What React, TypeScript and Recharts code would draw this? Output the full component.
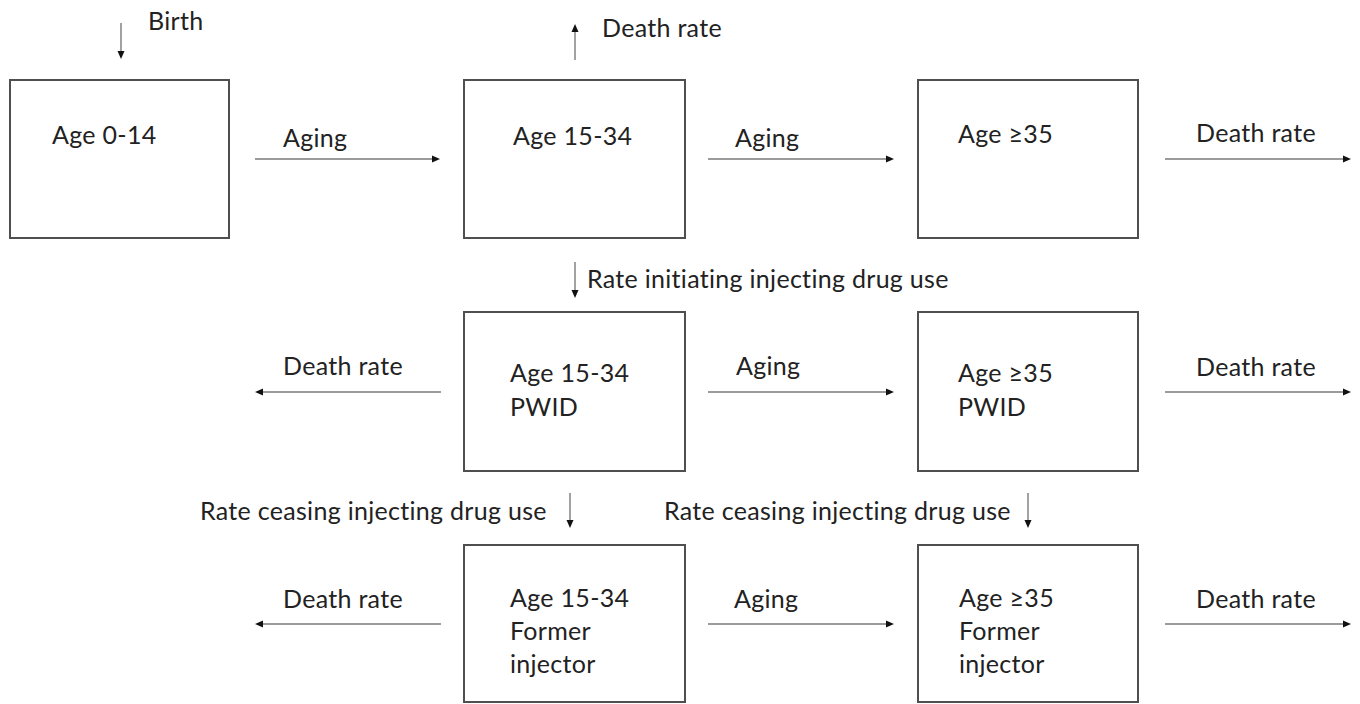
import React from 'react';
import { ScatterChart, Scatter, XAxis, YAxis, ReferenceArea, ReferenceLine } from 'recharts';

const W = 1360;
const H = 704;

// Compartment boxes (diagram units)
const boxes = [
  { id: 'age0_14', x1: 10, x2: 229, y1: 80, y2: 238 },
  { id: 'age15_34', x1: 464, x2: 685, y1: 80, y2: 238 },
  { id: 'age35', x1: 918, x2: 1138, y1: 80, y2: 238 },
  { id: 'pwid15_34', x1: 464, x2: 685, y1: 312, y2: 471 },
  { id: 'pwid35', x1: 918, x2: 1138, y1: 312, y2: 471 },
  { id: 'former15_34', x1: 464, x2: 685, y1: 545, y2: 702 },
  { id: 'former35', x1: 918, x2: 1138, y1: 545, y2: 702 },
];

// Text inside the boxes
const boxLabels = [
  { x: 52, y: 144, text: 'Age 0-14' },
  { x: 513, y: 145, text: 'Age 15-34' },
  { x: 958, y: 143, text: 'Age ≥35' },
  { x: 510, y: 382, text: 'Age 15-34' },
  { x: 510, y: 416, text: 'PWID' },
  { x: 958, y: 382, text: 'Age ≥35' },
  { x: 958, y: 416, text: 'PWID' },
  { x: 510, y: 607, text: 'Age 15-34' },
  { x: 510, y: 640, text: 'Former' },
  { x: 510, y: 673, text: 'injector' },
  { x: 959, y: 607, text: 'Age ≥35' },
  { x: 959, y: 640, text: 'Former' },
  { x: 959, y: 673, text: 'injector' },
];

// Flow arrows (from -> to)
const arrows = [
  { id: 'birth', x1: 121, y1: 23, x2: 121, y2: 59 },
  { id: 'death0', x1: 575, y1: 60, x2: 575, y2: 24 },
  { id: 'aging1a', x1: 255, y1: 159, x2: 440, y2: 159 },
  { id: 'aging1b', x1: 708, y1: 159, x2: 894, y2: 159 },
  { id: 'death1', x1: 1165, y1: 159, x2: 1351, y2: 159 },
  { id: 'init', x1: 575, y1: 262, x2: 575, y2: 298 },
  { id: 'death2l', x1: 441, y1: 392, x2: 255, y2: 392 },
  { id: 'aging2', x1: 708, y1: 392, x2: 894, y2: 392 },
  { id: 'death2r', x1: 1165, y1: 392, x2: 1351, y2: 392 },
  { id: 'cease1', x1: 570, y1: 493, x2: 570, y2: 528 },
  { id: 'cease2', x1: 1028, y1: 493, x2: 1028, y2: 528 },
  { id: 'death3l', x1: 441, y1: 624, x2: 255, y2: 624 },
  { id: 'aging3', x1: 708, y1: 624, x2: 894, y2: 624 },
  { id: 'death3r', x1: 1165, y1: 624, x2: 1351, y2: 624 },
];

// Flow labels
const flowLabels = [
  { x: 148, y: 30, text: 'Birth' },
  { x: 602, y: 37, text: 'Death rate' },
  { x: 283, y: 147, text: 'Aging' },
  { x: 735, y: 147, text: 'Aging' },
  { x: 1196, y: 142, text: 'Death rate' },
  { x: 587, y: 288, text: 'Rate initiating injecting drug use' },
  { x: 283, y: 375, text: 'Death rate' },
  { x: 736, y: 375, text: 'Aging' },
  { x: 1196, y: 376, text: 'Death rate' },
  { x: 200, y: 520, text: 'Rate ceasing injecting drug use' },
  { x: 664, y: 520, text: 'Rate ceasing injecting drug use' },
  { x: 283, y: 608, text: 'Death rate' },
  { x: 734, y: 608, text: 'Aging' },
  { x: 1196, y: 608, text: 'Death rate' },
];

const FONT = 'Lato, "Open Sans", sans-serif';
const FONT_SIZE = 25;

const ArrowShape = (p: any) => {
  const { x1, y1, x2, y2 } = p;
  const dx = x2 - x1;
  const dy = y2 - y1;
  const len = Math.hypot(dx, dy) || 1;
  const ux = dx / len;
  const uy = dy / len;
  const hl = 8;
  const hw = 3.5;
  const bx = x2 - ux * hl;
  const by = y2 - uy * hl;
  const px = -uy;
  const py = ux;
  return (
    <g>
      <line x1={x1} y1={y1} x2={bx} y2={by} stroke="#7a7a7a" strokeWidth={1.4} />
      <polygon
        points={`${x2},${y2} ${bx + px * hw},${by + py * hw} ${bx - px * hw},${by - py * hw}`}
        fill="#111"
      />
    </g>
  );
};

const TextShape = (p: any) => {
  const { cx, cy, payload } = p;
  return (
    <text
      x={cx}
      y={cy}
      fill="#222"
      fontFamily={FONT}
      fontSize={FONT_SIZE}
      letterSpacing={0.3}
      textAnchor="start"
    >
      {payload.text}
    </text>
  );
};

export default function App() {
  return (
    <div style={{ position: 'absolute', left: 0, top: 0, width: W, height: H, background: '#fff' }}>
      <ScatterChart width={W} height={H} margin={{ top: 0, right: 0, bottom: 0, left: 0 }}>
        <XAxis type="number" dataKey="x" domain={[0, W]} hide allowDataOverflow />
        <YAxis type="number" dataKey="y" domain={[0, H]} reversed hide allowDataOverflow />
        {boxes.map((b) => (
          <ReferenceArea
            key={b.id}
            x1={b.x1}
            x2={b.x2}
            y1={b.y1}
            y2={b.y2}
            fill="#fff"
            fillOpacity={1}
            stroke="#4f4f4f"
            strokeWidth={2}
            ifOverflow="visible"
          />
        ))}
        {arrows.map((a) => (
          <ReferenceLine
            key={a.id}
            segment={[{ x: a.x1, y: a.y1 }, { x: a.x2, y: a.y2 }]}
            shape={ArrowShape}
            ifOverflow="visible"
          />
        ))}
        <Scatter data={boxLabels} shape={TextShape} isAnimationActive={false} />
        <Scatter data={flowLabels} shape={TextShape} isAnimationActive={false} />
      </ScatterChart>
    </div>
  );
}
